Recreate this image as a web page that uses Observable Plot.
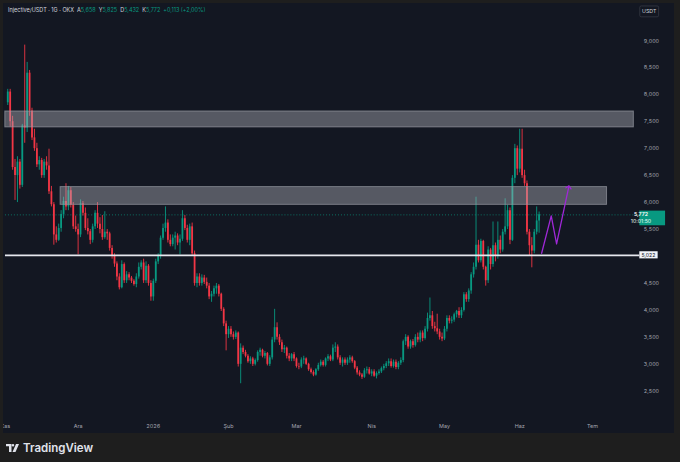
<!DOCTYPE html>
<html><head><meta charset="utf-8">
<script src="https://cdn.jsdelivr.net/npm/d3@7"></script>
<script src="https://cdn.jsdelivr.net/npm/@observablehq/plot@0.6"></script>
<style>
html,body{margin:0;padding:0;background:#1e1e1e;width:680px;height:462px;overflow:hidden;font-family:Inter,"DejaVu Sans",sans-serif;}
#panel{position:absolute;left:3px;top:3px;width:671px;height:430px;background:#131722;overflow:hidden;}
#chart{position:absolute;left:-3px;top:-3px;}
#hdr{position:absolute;left:8px;top:6.5px;font-size:5.5px;color:#d1d4dc;white-space:nowrap;}
#hdr .v{color:#089981}
#hdr .g{margin-left:3px}
#logo{position:absolute;left:6px;top:441px;color:#e0e3eb;font-size:11.5px;font-weight:600;display:flex;align-items:center;gap:4px;font-family:Inter,sans-serif}
</style></head>
<body>
<div id="panel"><div id="chart"></div></div>
<div id="hdr"></div>
<div id="logo"><svg width="13" height="8" viewBox="0 0 13 8"><path d="M0 0H5.5V8H3V2.3H0Z M7 0.1a1.25 1.25 0 1 1 0 2.5a1.25 1.25 0 1 1 0-2.5Z M10 0H13L9.5 8H6.5Z" fill="#e0e3eb"/></svg><span>TradingView</span></div>
<script>
// ---- data: daily INJ/USDT candles, 2 Nov 2025 .. 9 Jun 2026 ----
const firstDate = "2025-11-02";
const firstOpen = 7.85;
const lastOpen = 5.658;
const close = [
 8.05,7.5,6.65,6.5,6.75,6.32,7.42,7.38,8.4,7.7,
 7.2,7.0,6.7,6.78,6.5,6.75,6.68,6.2,5.96,5.4,
 5.3,5.52,5.78,6.02,5.92,6.22,5.95,5.55,5.5,5.4,
 5.98,5.8,5.52,5.46,5.3,5.55,5.8,5.6,5.5,5.35,
 5.45,5.42,5.15,5.0,4.86,4.62,4.42,4.85,4.55,4.66,
 4.6,4.54,4.48,4.62,4.8,4.88,4.55,4.82,4.5,4.25,
 4.54,4.9,5.0,5.34,5.52,5.62,5.3,5.22,5.34,5.38,
 5.25,5.32,5.7,5.52,5.3,5.55,5.05,4.5,4.62,4.5,
 4.6,4.52,4.45,4.25,4.3,4.4,4.45,4.3,4.02,3.75,
 3.55,3.65,3.55,3.5,3.58,3.0,3.3,3.22,3.15,3.05,
 3.1,3.0,3.07,3.22,3.26,3.15,3.2,3.0,3.12,3.45,
 3.68,3.5,3.4,3.27,3.3,3.15,3.1,3.18,3.1,2.96,
 2.95,3.08,3.1,3.0,2.9,2.85,2.8,2.9,2.98,3.04,
 2.98,3.1,3.14,3.08,3.3,3.32,3.12,3.02,3.08,3.02,
 3.08,3.12,3.05,2.93,2.84,2.8,2.76,2.88,2.9,2.82,
 2.86,2.78,2.83,2.86,2.92,2.96,3.01,3.05,2.96,3.04,
 2.94,3.02,3.07,3.42,3.5,3.32,3.42,3.35,3.5,3.45,
 3.58,3.48,3.65,3.85,3.9,3.7,3.66,3.6,3.5,3.47,3.65,
 3.85,3.8,3.82,3.92,3.98,3.9,4.0,4.29,4.2,4.36,
 4.66,4.8,5.21,4.92,5.28,4.8,4.55,5.12,4.85,5.2,
 5.0,5.3,5.12,5.45,5.55,5.85,5.3,6.45,7.0,6.62,
 6.99,6.5,6.35,5.45,5.2,5.1,5.45,5.659,5.772
];
const high = [
 8.1,8.1,7.6,6.8,6.85,6.8,7.45,8.92,8.6,8.45,
 7.75,7.36,7.1,6.85,6.82,6.8,6.85,6.99,6.3,6.0,
 5.55,5.6,5.85,6.1,6.35,6.3,6.28,6.0,5.75,5.6,
 6.05,6.02,5.9,5.7,5.5,5.6,5.85,6.0,5.72,5.76,
 5.83,5.5,5.45,5.2,5.05,4.9,4.68,4.92,4.88,4.72,
 4.7,4.63,4.57,4.68,4.88,4.92,4.95,4.9,4.85,4.55,
 4.58,4.95,5.05,5.38,5.6,5.92,5.68,5.4,5.4,5.45,
 5.42,5.4,5.85,5.76,5.58,5.6,5.62,5.1,4.68,4.68,
 4.66,4.65,4.6,4.5,4.35,4.45,4.5,4.48,4.32,4.05,
 3.8,3.7,3.7,3.6,3.62,3.6,3.38,3.34,3.26,3.18,
 3.14,3.13,3.1,3.25,3.3,3.28,3.24,3.22,3.16,3.5,
 4.02,3.77,3.55,3.45,3.35,3.32,3.2,3.2,3.22,3.12,
 3.02,3.12,3.15,3.12,3.02,2.93,2.88,2.92,3.02,3.08,
 3.07,3.12,3.18,3.17,3.36,3.4,3.36,3.16,3.12,3.12,
 3.12,3.16,3.15,3.07,2.96,2.88,2.83,2.92,2.95,2.94,
 2.9,2.9,2.86,2.9,2.95,3.0,3.05,3.1,3.1,3.08,
 3.08,3.05,3.12,3.45,3.55,3.53,3.45,3.46,3.55,3.58,
 3.62,3.62,3.7,3.95,4.23,3.98,3.78,3.93,3.65,3.58,3.7,
 3.9,3.9,3.88,3.95,4.0,4.05,4.05,4.33,4.33,4.4,
 4.7,4.88,6.1,5.3,5.32,5.3,4.82,5.18,5.15,5.64,
 5.25,5.64,5.38,5.5,6.07,5.95,5.9,6.5,7.08,7.05,
 7.36,7.36,6.6,6.4,5.5,5.35,5.5,5.92,5.825
];
const low = [
 7.8,7.4,6.6,6.04,6.0,6.25,6.28,7.1,7.3,7.6,
 7.15,6.95,6.65,6.6,6.45,6.45,6.6,6.15,5.92,5.21,
 5.25,5.28,5.45,5.7,5.85,5.85,5.9,5.5,5.45,5.03,
 5.35,5.75,5.48,5.4,5.22,5.25,5.5,5.52,5.42,5.3,
 5.32,5.3,5.1,4.95,4.8,4.55,4.38,4.4,4.5,4.5,
 4.55,4.5,4.45,4.42,4.58,4.75,4.5,4.5,4.45,4.17,
 4.17,4.5,4.85,4.95,5.3,5.45,5.25,5.18,5.18,5.12,
 5.2,5.03,5.28,5.48,5.25,5.2,5.0,4.45,4.42,4.45,
 4.45,4.48,4.4,4.2,4.15,4.25,4.3,4.25,3.98,3.7,
 3.25,3.48,3.5,3.45,3.46,2.95,2.64,3.18,3.12,3.02,
 3.0,2.96,2.97,3.04,3.15,3.12,3.1,2.97,2.96,3.08,
 3.4,3.45,3.35,3.22,3.2,3.1,3.05,3.05,3.05,2.93,
 2.9,2.92,3.0,2.98,2.87,2.82,2.77,2.78,2.87,2.95,
 2.95,2.95,3.05,3.05,3.05,3.22,3.08,2.98,2.95,2.98,
 2.98,3.02,3.02,2.9,2.8,2.77,2.72,2.74,2.82,2.8,
 2.77,2.76,2.73,2.8,2.83,2.88,2.92,2.96,2.93,2.93,
 2.9,2.9,2.98,3.03,3.35,3.28,3.28,3.3,3.32,3.4,
 3.4,3.42,3.45,3.6,3.8,3.65,3.6,3.55,3.45,3.42,3.44,
 3.6,3.75,3.75,3.78,3.86,3.85,3.85,3.97,4.15,4.15,
 4.3,4.6,4.75,4.88,4.88,4.75,4.45,4.5,4.75,4.8,
 4.9,4.95,5.05,5.08,5.4,5.5,5.22,5.28,6.35,6.5,
 6.55,6.45,6.3,5.4,5.0,4.79,5.05,5.4,5.432
];
// axis ticks
const monthTicks = ["2025-11-01","2025-12-01","2026-01-01","2026-02-01","2026-03-01","2026-04-01","2026-05-01","2026-06-01","2026-07-01"];
const monthLabels = ["Kas","Ara","2026","Şub","Mar","Nis","May","Haz","Tem"];
const priceTicks = [2.5,3,3.5,4,4.5,5.5,6,6.5,7,7.5,8,8.5,9];
// drawings
const zoneStart = ["2025-11-01T00:00","2025-11-23T19:00"];
const zoneEnd   = ["2026-07-18T01:00","2026-07-07T00:00"];
const zoneLow   = [7.395, 5.958];
const zoneHigh  = [7.689, 6.287];
const supportLevel = 5.022;
const lastPrice = 5.772;
const lastTime = "10:01:50";
const pathTimes = ["2026-06-10T01:00","2026-06-14T00:00","2026-06-16T05:00","2026-06-21T05:00"];
const pathPrices = [5.06, 5.754, 5.232, 6.287];
const header = {pair:"Injective/USDT · 1G · OKX", o:"5,658", h:"5,825", l:"5,432", c:"5,772", chg:"+0,113 (+2,00%)"};

// ---- build ----
const up = "#089981", down = "#f23645";
const t0 = new Date(firstDate + "T00:00Z");
const candles = close.map((c, i) => ({
  date: d3.utcDay.offset(t0, i),
  open: i === 0 ? firstOpen : (i === close.length - 1 ? lastOpen : close[i - 1]),
  high: high[i], low: low[i], close: c
}));
const ups = candles.filter(d => d.close >= d.open);
const downs = candles.filter(d => d.close < d.open);
const zones = zoneStart.map((s, i) => ({x1: new Date(s + "Z"), x2: new Date(zoneEnd[i] + "Z"), y1: zoneLow[i], y2: zoneHigh[i]}));
const path = pathTimes.map((t, i) => ({date: new Date(t + "Z"), price: pathPrices[i]}));
const tickDates = monthTicks.map(s => new Date(s + "T00:00Z"));
const labelMap = new Map(tickDates.map((d, i) => [+d, monthLabels[i]]));
const nov1 = Date.UTC(2025, 10, 1), DAY = 864e5;

const plot = Plot.plot({
  width: 680, height: 436,
  marginLeft: 5, marginRight: 35, marginTop: 5, marginBottom: 18,
  style: {background: "transparent", color: "#a3a6af", fontFamily: "Inter, 'DejaVu Sans', sans-serif"},
  x: {type: "utc", domain: [new Date(nov1 + 0.057 * DAY), new Date(nov1 + 261.5 * DAY)]},
  y: {domain: [2.064, 9.656]},
  marks: [
    Plot.ruleY([lastPrice], {stroke: up, strokeDasharray: "1,2", strokeOpacity: 0.7}),
    Plot.ruleX(ups, {x: "date", y1: "low", y2: "high", stroke: up, strokeWidth: 0.9}),
    Plot.ruleX(downs, {x: "date", y1: "low", y2: "high", stroke: down, strokeWidth: 0.9}),
    Plot.ruleX(ups, {x: "date", y1: "open", y2: "close", stroke: up, strokeWidth: 1.8}),
    Plot.ruleX(downs, {x: "date", y1: "open", y2: "close", stroke: down, strokeWidth: 1.8}),
    Plot.rect(zones, {x1: "x1", x2: "x2", y1: "y1", y2: "y2", fill: "#b2b5be", fillOpacity: 0.42, stroke: "#9598a1", strokeOpacity: 0.7, strokeWidth: 1}),
    Plot.ruleY([supportLevel], {stroke: "#e6e8ee", strokeWidth: 1.7}),
    Plot.line(path, {x: "date", y: "price", stroke: "#a028d8", strokeWidth: 1.3, markerEnd: "arrow"}),
    Plot.axisX({ticks: tickDates, tickFormat: d => labelMap.get(+d), tickSize: 0, tickPadding: 9, fontSize: 5.5, label: null, fill: "#a3a6af"}),
    Plot.axisY({anchor: "right", ticks: priceTicks, tickFormat: d => d.toFixed(3).replace(".", ","), tickSize: 0, tickPadding: 4, fontSize: 5.4, label: null, fill: "#a3a6af"})
  ]
});
document.getElementById("chart").appendChild(plot);

// price labels on the axis, placed with the plot's y scale
const ys = plot.scale("y");
const svg = d3.select(plot);
const fmt = v => v.toFixed(3).replace(".", ",");
const ySup = ys.apply(supportLevel);
svg.append("rect").attr("x", 645).attr("y", ySup - 3.6).attr("width", 18.5).attr("height", 7.2).attr("fill", "#f0f3fa");
svg.append("text").attr("x", 654.2).attr("y", ySup).attr("dy", "0.35em").attr("text-anchor", "middle").attr("font-size", 5.2).attr("fill", "#131722").text(fmt(supportLevel));
const yLast = ys.apply(lastPrice);
svg.append("rect").attr("x", 645).attr("y", yLast - 3.8).attr("width", 26).attr("height", 14.8).attr("fill", up);
svg.append("text").attr("x", 646.7).attr("y", yLast - 0.3).attr("dy", "0.35em").attr("font-size", 5.3).attr("font-weight", 600).attr("fill", "#ffffff").text(fmt(lastPrice));
svg.append("text").attr("x", 646.7).attr("y", yLast + 6.6).attr("dy", "0.35em").attr("font-size", 5.3).attr("fill", "#e8fff9").text(lastTime);
svg.append("rect").attr("x", 645.5).attr("y", 6).attr("width", 19).attr("height", 11).attr("rx", 1.5).attr("fill", "#131722").attr("stroke", "#363a45").attr("stroke-width", 0.8);
svg.append("text").attr("x", 655).attr("y", 11.5).attr("dy", "0.35em").attr("text-anchor", "middle").attr("font-size", 5.3).attr("fill", "#d1d4dc").text("USDT");

document.getElementById("hdr").innerHTML =
  `${header.pair}<span class="g">A</span><span class="v">${header.o}</span><span class="g">Y</span><span class="v">${header.h}</span><span class="g">D</span><span class="v">${header.l}</span><span class="g">K</span><span class="v">${header.c}</span><span class="g v">${header.chg}</span>`;
</script>
</body></html>
